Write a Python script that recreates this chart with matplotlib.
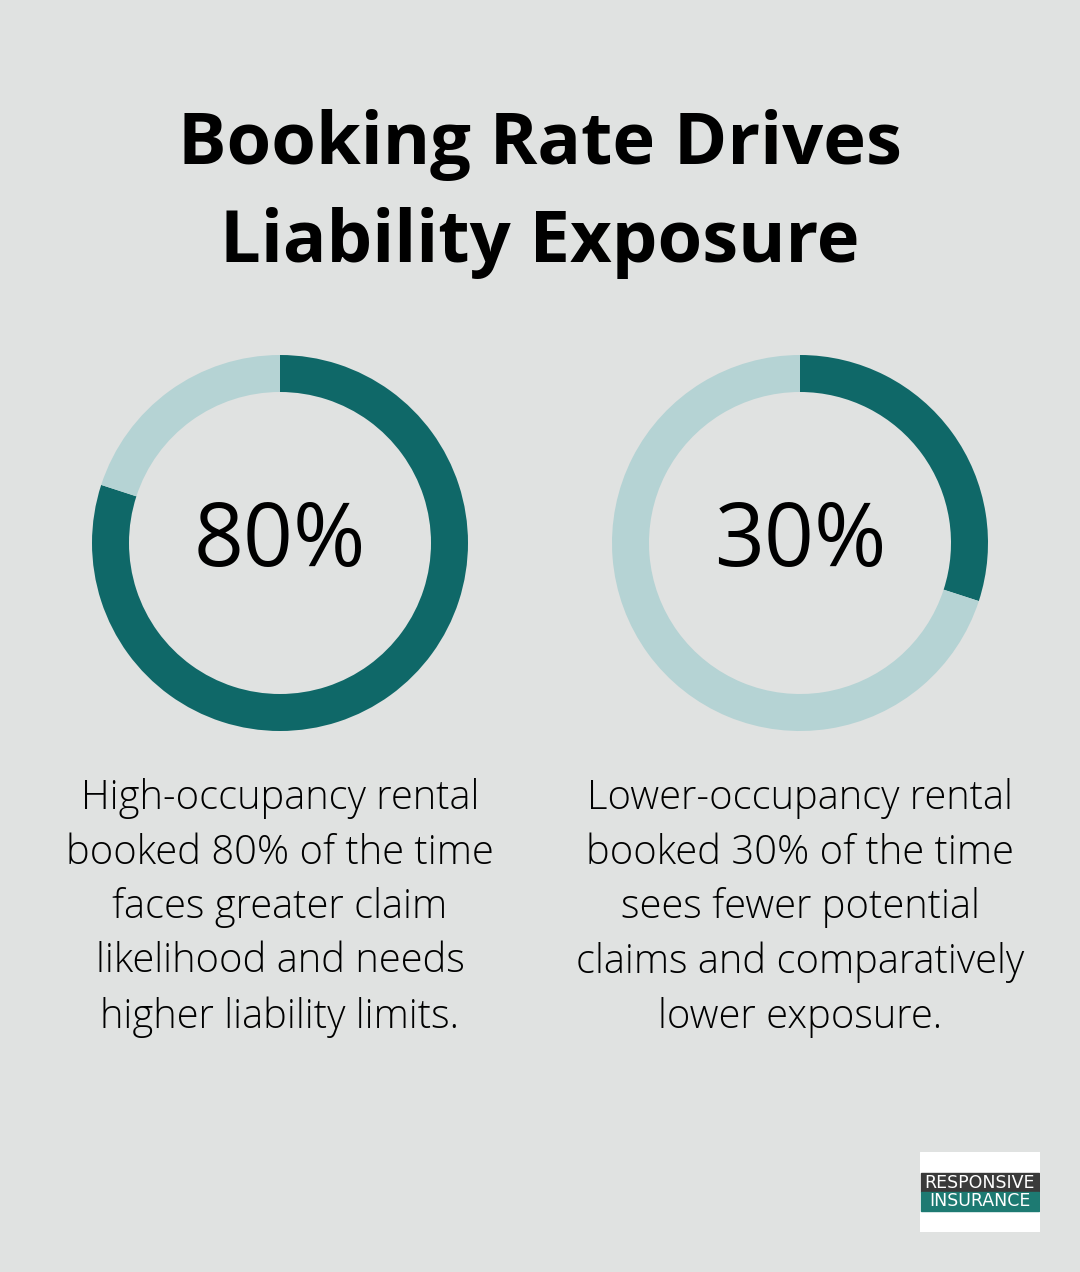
import matplotlib
matplotlib.use("Agg")
import matplotlib.pyplot as plt

# data
labels = ["80%", "30%"]
booked = [80, 30]
captions = [
    "High-occupancy rental\nbooked 80% of the time\nfaces greater claim\nlikelihood and needs\nhigher liability limits.",
    "Lower-occupancy rental\nbooked 30% of the time\nsees fewer potential\nclaims and comparatively\nlower exposure.",
]
title = "Booking Rate Drives\nLiability Exposure"

BG = "#E0E2E1"
DARK = "#0F6868"
LIGHT = "#B5D3D4"
W, H = 1080, 1272

plt.rcParams["font.family"] = ["Open Sans", "DejaVu Sans"]

fig = plt.figure(figsize=(W / 100, H / 100), dpi=100, facecolor=BG)
ax = fig.add_axes([0, 0, 1, 1])

centers_x = [280, 800]
cy = H - 543
for cx, val, lab, cap in zip(centers_x, booked, labels, captions):
    ax.pie([val, 100 - val], colors=[DARK, LIGHT], startangle=90,
           counterclock=False, center=(cx, cy), radius=188,
           wedgeprops=dict(width=37, linewidth=0), frame=True)
    ax.text(cx, cy, lab, ha="center", va="center", fontsize=63,
            color="#000000")
    ax.text(cx, H - 908, cap, ha="center", va="center", fontsize=28.7,
            fontweight="light", linespacing=1.43, color="#000000")

ax.text(540, H - 194, title, ha="center", va="center", fontsize=52,
        fontweight="bold", linespacing=1.48, color="#000000")

ax.set_xlim(0, W)
ax.set_ylim(0, H)
ax.set_aspect("equal")
ax.axis("off")

# logo
logo = fig.add_axes([920 / W, 1 - 1232 / H, 120 / W, 80 / H])
logo.set_xlim(0, 120)
logo.set_ylim(0, 80)
logo.axis("off")
logo.add_patch(plt.Rectangle((0, 0), 120, 80, color="white"))
logo.add_patch(plt.Rectangle((1, 40), 118, 19, color="#3a3a3a"))
logo.add_patch(plt.Rectangle((1, 21), 118, 19, color="#1d7a72"))
logo.text(60, 49.5, "RESPONSIVE", ha="center", va="center", color="white",
          fontsize=12.5, fontfamily="DejaVu Sans")
logo.text(60, 30.5, "INSURANCE", ha="center", va="center", color="white",
          fontsize=12.5, fontfamily="DejaVu Sans")

fig.savefig("out.png", dpi=100, facecolor=BG)
